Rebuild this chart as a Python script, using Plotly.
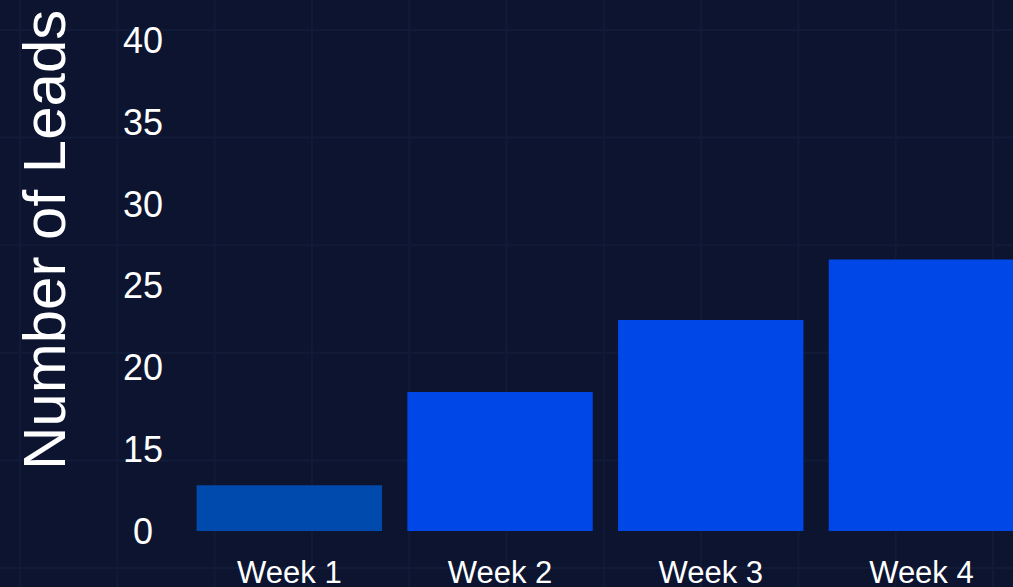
import plotly.graph_objects as go

# ---- data ----
weeks = ["Week 1", "Week 2", "Week 3", "Week 4"]
leads = [12.8, 18.5, 22.9, 26.6]
bar_colors = ["#004AAD", "#0047E8", "#0047E8", "#0047E8"]
y_tickvals = [10, 15, 20, 25, 30, 35, 40]
y_ticktext = ["0\u2008", "15", "20", "25", "30", "35", "40"]
y_title = "Number of Leads"

# ---- layout geometry ----
W, H = 1013, 587
ML, MB = 184, 56
PW, PH = W - ML, H - MB
cat_px = 210.7
px_per_unit = 16.35

BG = "#0C1430"
GRID = "#111A37"
FONT = "Liberation Sans, Arial, sans-serif"

fig = go.Figure(
    go.Bar(
        x=weeks,
        y=leads,
        marker=dict(color=bar_colors, line=dict(width=0)),
        hoverinfo="x+y",
    )
)

# decorative background grid (page pattern), built from a spacing
shapes = []
gx0, gdx = 20, 97.3
gy0, gdy = 30, 107.6
k = 0
while gx0 + gdx * k < W + 5:
    xp = (gx0 + gdx * k - ML) / PW
    shapes.append(dict(type="line", xref="paper", yref="paper", x0=xp, x1=xp,
                       y0=-MB / PH, y1=1, line=dict(color=GRID, width=2), layer="below"))
    k += 1
k = 0
while gy0 + gdy * k < H + 5:
    yp = (PH - (gy0 + gdy * k)) / PH
    shapes.append(dict(type="line", xref="paper", yref="paper", x0=-ML / PW, x1=1,
                       y0=yp, y1=yp, line=dict(color=GRID, width=2), layer="below"))
    k += 1

fig.update_layout(
    width=W,
    height=H,
    margin=dict(l=ML, r=0, t=0, b=MB, pad=0, autoexpand=False),
    paper_bgcolor=BG,
    plot_bgcolor=BG,
    font=dict(family=FONT, color="white"),
    bargap=0.12,
    showlegend=False,
    shapes=shapes,
    xaxis=dict(
        type="category",
        range=[-0.5, -0.5 + PW / cat_px],
        showgrid=False,
        zeroline=False,
        showline=False,
        ticks="",
        automargin=False,
        tickfont=dict(size=31, color="white", family=FONT),
        ticklabelstandoff=20,
    ),
    yaxis=dict(
        range=[10, 10 + PH / px_per_unit],
        tickvals=y_tickvals,
        ticktext=y_ticktext,
        showgrid=False,
        zeroline=False,
        showline=False,
        ticks="",
        automargin=False,
        tickfont=dict(size=36, color="white", family=FONT),
        ticklabelstandoff=20,
    ),
    annotations=[
        dict(
            text=y_title,
            xref="paper", yref="paper",
            x=(44 - ML) / PW, y=(PH - 240) / PH,
            xanchor="center", yanchor="middle",
            textangle=-90,
            showarrow=False,
            font=dict(size=60, color="white", family=FONT),
        )
    ],
)

fig.write_html(
    "out.html",
    config={"displayModeBar": False},
    post_script="document.body.style.margin='0';document.body.style.overflow='hidden';document.body.style.background='" + BG + "';",
)
